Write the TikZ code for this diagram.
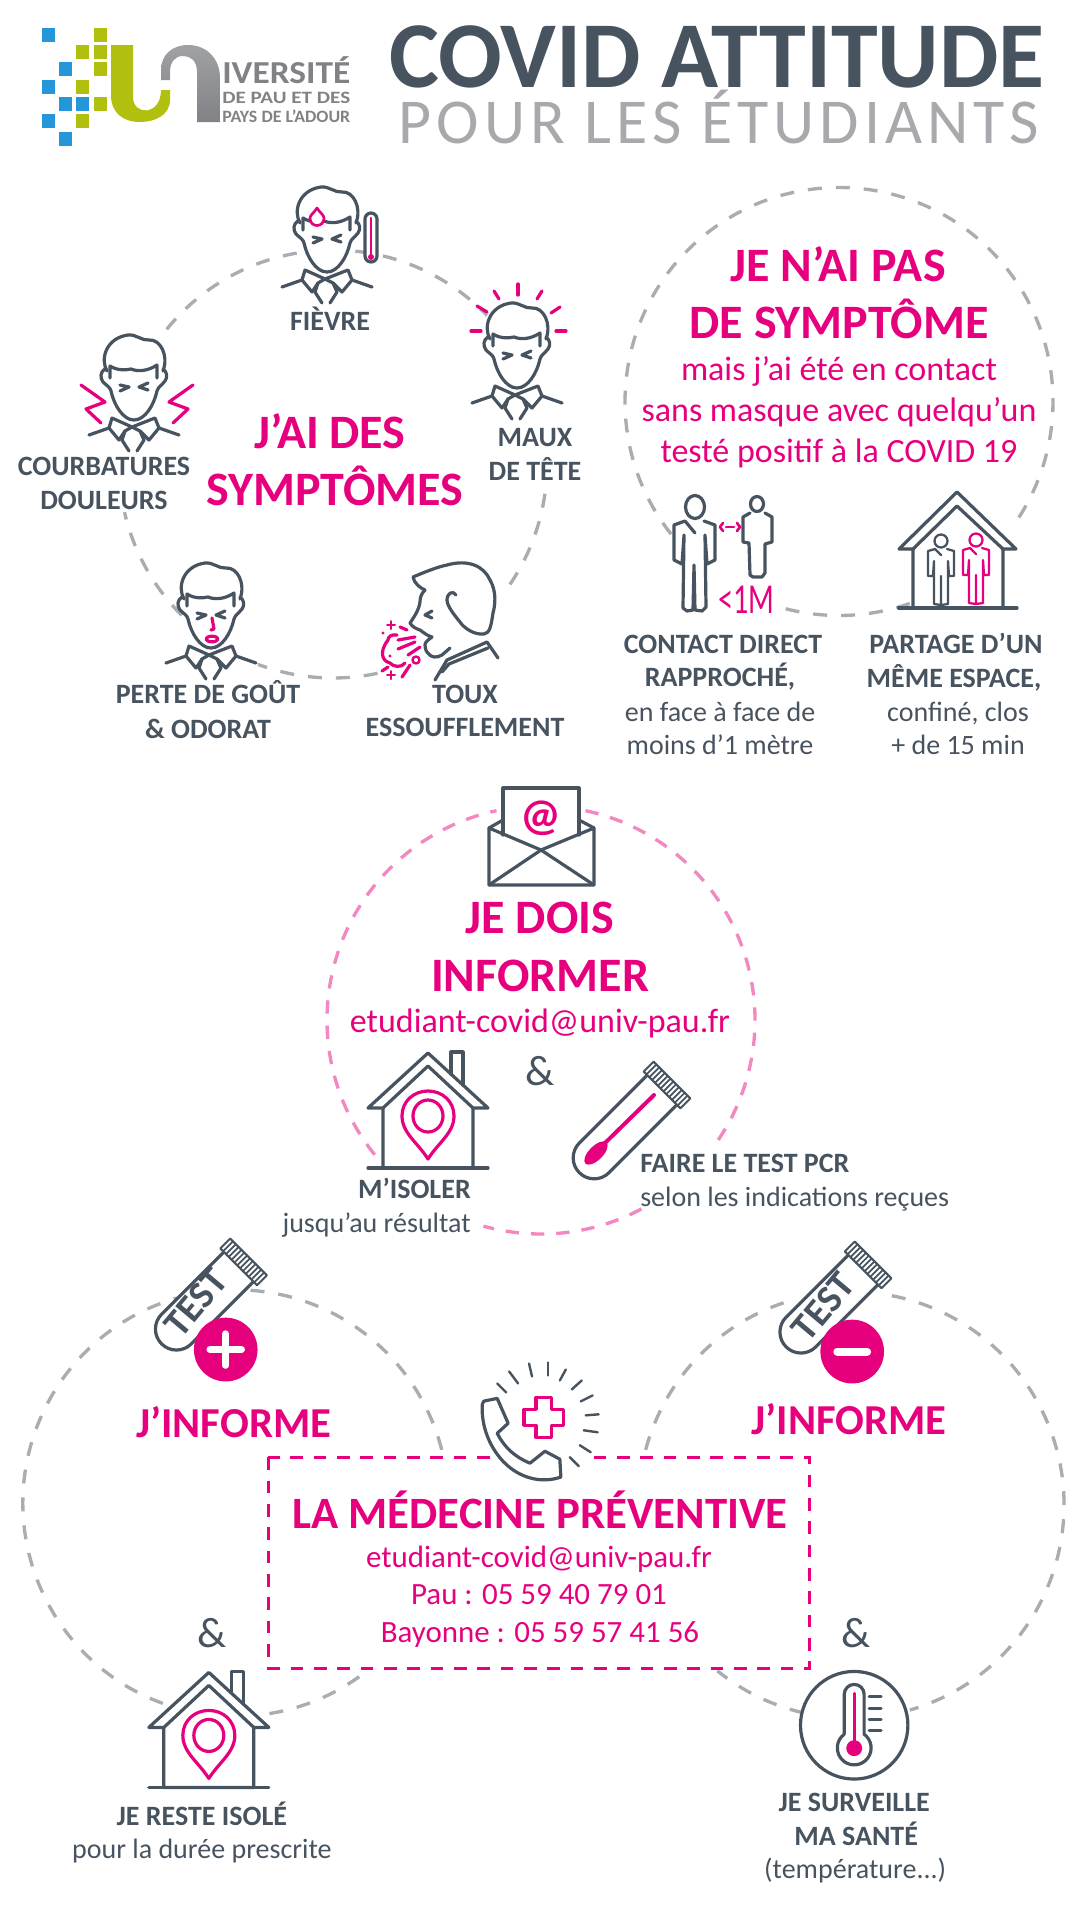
\documentclass[tikz,border=0pt]{standalone}
\usepackage{fontspec}
\setmainfont{Carlito}
\newfontfamily\spc[LetterSpace=7.9]{Carlito}
\definecolor{dk}{HTML}{47535F}
\definecolor{mg}{HTML}{E6007E}
\definecolor{gd}{HTML}{A9ADB1}
\definecolor{pk}{HTML}{F288BF}
\definecolor{lt}{HTML}{A7A9AC}
\definecolor{lgb}{HTML}{2596D7}
\definecolor{lgg}{HTML}{B1BF0E}
\definecolor{lgy}{HTML}{808285}
\newcommand{\fz}[1]{\fontsize{#1}{#1}\selectfont}
\newcommand{\fitw}[2]{\resizebox{#1}{\height}{#2}}
\newcommand{\carc}[5]{\draw[#1] ({#2+214*cos(#4)},{#3+214*sin(#4)}) arc[start angle=#4,end angle=#5,radius=214];}
\tikzset{
  ic/.style={draw=dk,line width=2.4pt,line cap=round,line join=round},
  im/.style={draw=mg,line width=2.4pt,line cap=round,line join=round},
  gdash/.style={draw=gd,line width=2.5pt,dash pattern=on 10.5pt off 10.5pt},
  pdash/.style={draw=pk,line width=2.5pt,dash pattern=on 10pt off 9pt},
  bx/.style={anchor=base,inner sep=0pt},
  ttl/.style={bx,text=dk,font=\fz{70.7}\bfseries},
  sub/.style={bx,text=lt,font=\fz{48}\spc},
  sec/.style={bx,text=mg,font=\fz{36}\bfseries},
  mbody/.style={bx,text=mg,font=\fz{25.5}},
  lab/.style={bx,text=dk,font=\fz{21}\bfseries},
  labr/.style={bx,text=dk,font=\fz{21}},
  amp/.style={bx,text=dk,font=\fz{32}},
  logot/.style={anchor=base west,inner sep=0pt,text=lgy,font=\bfseries},
  pics/head/.style={code={
    \draw[ic,fill=white] (-29,34) .. controls (-34,37) and (-34,43) .. (-31,47) .. controls (-27,51) and (-24,52) .. (-23,56) .. controls (-20,70) and (-11,85) .. (0,85) .. controls (11,85) and (20,70) .. (23,56) .. controls (24,52) and (28,50) .. (31,46) .. controls (34,42) and (33,37) .. (29,34);
    \draw[ic] (-27,36) .. controls (-34,24) and (-28,3) .. (-6,0) .. controls (2,-1) and (8,6) .. (15,5) .. controls (26,4) and (35,20) .. (29,36);
    \draw[ic] (-24,43) -- (-24,31) .. controls (-16,36) and (-8,35) .. (-3,34) .. controls (4,37) and (14,36) .. (23,30) -- (23,43);
    \draw[ic] (-14,50) -- (-5,52) -- (-14,56) (14,48) -- (5,52) -- (14,55);
    \draw[ic] (-45,100) -- (-25,93) (45,100) -- (25,93);
    \draw[ic] (-22,83) -- (-25,93) -- (-15,105) -- (-9,96) -- (-2,92) -- cycle;
    \draw[ic] (21,83) -- (25,93) -- (15,105) -- (6,96) -- (-2,92) -- cycle;
    \draw[ic] (-9,96) -- (-12,105) -- (-5,116) (6,96) -- (10,105) -- (3,116);
  }},
  pics/person/.style 2 args={code={
    \draw[ic,draw=#1,line width=#2,fill=white] (0,0) circle[radius=6.5];
    \draw[ic,draw=#1,line width=#2] (-6,8) -- (-13,10) -- (-13,35) -- (-8,35) -- (-7,20) -- (-7,63) -- (0,64) -- (0,35) -- (0,64) -- (7,63) -- (7,20) -- (8,35) -- (13,35) -- (13,10) -- (6,8);
    \draw[ic,draw=#1,line width=#2] (-6,8) -- (0,14);
  }},
  pics/house/.style={code={
    \draw[ic,fill=white] (-60,55) -- (0,0) -- (60,55) -- (45,55) -- (45,115) -- (-45,115) -- (-45,55) -- cycle;
    \draw[ic] (-45,55) -- (0,13) -- (45,55);
    \draw[ic] (-60,115) -- (60,115);
    \draw[ic] (23,21) -- (23,-1) -- (35,-1) -- (35,32);
    \draw[im] (0,106) .. controls (-10,90) and (-26,80) .. (-26,63) .. controls (-26,48) and (-14,38) .. (0,38) .. controls (14,38) and (26,48) .. (26,63) .. controls (26,80) and (10,90) .. (0,106) -- cycle;
    \draw[im] (0,63) ellipse[x radius=15,y radius=16];
  }},
  pics/tube/.style={code={
    \draw[ic,fill=white] (-21,6) -- (-21,#1) arc[start angle=180,end angle=0,radius=21] -- (21,6);
    \draw[ic,line width=1.5pt,fill=white] (-26,-7) rectangle (26,7);
    \foreach \u in {-22,-18,...,22} {\draw[ic,line width=1.3pt] (\u,-7) -- (\u,7);}
  }}
}
\begin{document}
\begin{tikzpicture}[x=.75pt,y=-.75pt]
\useasboundingbox (0,0) rectangle (1080,1920);

% ---------- logo
\foreach \x/\y in {41.5/28,59/62,41.5/80,59/97,76/97,41.5/114,59/132} {\fill[lgb] (\x,\y) rectangle ++(13,13.5);}
\foreach \x/\y in {93.5/28,76/45,93.5/45,93.5/62,76/80,93.5/97,76/114} {\fill[lgg] (\x,\y) rectangle ++(13,13.5);}
\fill[lgg] (111,45) -- (133,45) -- (133,97) .. controls (133,116) and (161,116) .. (161,90) -- (170,90) -- (170,100) .. controls (170,115) and (155,122) .. (140,122) .. controls (122,122) and (111,112) .. (111,95) -- cycle;
\shade[top color=lgy!75,bottom color=lgy] (161,80) -- (161,70) .. controls (161,55) and (172,45) .. (188,45) .. controls (208,45) and (220,60) .. (220,78) -- (220,122) -- (197,122) -- (197,72) .. controls (197,60) and (190,56) .. (183,56) .. controls (175,56) and (170,62) .. (170,72) -- (170,80) -- cycle;
\node[logot] (lg1) at (222,83) {\fz{24}\fitw{96pt}{IVERSITÉ}};
\node[logot] (lg2) at (222,103) {\fz{13}\fitw{96pt}{DE PAU ET DES}};
\node[logot] (lg3) at (222,122) {\fz{13}\fitw{96pt}{PAYS DE L’ADOUR}};

% ---------- title
\node[ttl] (t1) at (717,87) {COVID ATTITUDE};
\node[sub] (t2) at (719,143) {POUR LES ÉTUDIANTS};

% ---------- circles (arcs)
\carc{gdash}{333}{464}{219}{261}
\carc{gdash}{333}{464}{276}{316}
\carc{gdash}{333}{464}{8}{35}
\carc{gdash}{333}{464}{78}{110.5}
\carc{gdash}{333}{464}{135}{167}
\carc{gdash}{839}{401.5}{141.7}{395.5}
\carc{gdash}{839}{401.5}{70.7}{105}
\carc{pdash}{541}{1020}{282}{395}
\carc{pdash}{541}{1020}{62}{105.6}
\carc{pdash}{541}{1020}{141}{258}

% ---------- heads
\pic at (327,187) {head};
\draw[im,line width=2pt,fill=white] (317,208) .. controls (314,213) and (310,215) .. (310,218) .. controls (310,228) and (324,228) .. (324,218) .. controls (324,215) and (320,213) .. (317,208) -- cycle;
\draw[ic,fill=white] (365,219) arc[start angle=180,end angle=360,radius=6] -- (377,256) arc[start angle=0,end angle=180,radius=6] -- cycle;
\draw[im,line width=2pt] (371,218) -- (371,256);
\fill[mg] (371,257) circle[radius=3];

\pic at (517,303) {head};
\foreach \a/\b/\c/\d in {0/-19/0/-8,-24/-12/-19/-4,24/-12/19/-4,-41/3/-31/9,42/4/33/10,-47/28/-37/28,38/28/48/28}
  {\draw[im] (518+\a,303+\b) -- (518+\c,303+\d);}

\pic at (134,335) {head};
\draw[im] (81,385) -- (105,402) -- (86,409) -- (101,423);
\draw[im] (193,385) -- (169,402) -- (188,409) -- (173,423);

\pic at (211,563) {head};
\draw[im] (212,618) -- (214,629) -- (211,630);
\draw[im] (212,639) ellipse[x radius=6,y radius=2.8];

% toux
\draw[ic] (425,590) .. controls (421,594) and (420,598) .. (420,602) .. controls (419,610) and (414,617) .. (410,623) .. controls (412,627) and (417,629) .. (420,630) .. controls (424,633) and (428,636) .. (432,637) .. controls (428,640) and (425,642) .. (425,645) .. controls (425,649) and (427,653) .. (428,653) .. controls (431,658) and (437,658) .. (442,655) -- (450,648);
\draw[ic] (425,590) .. controls (420,588) and (414,583) .. (413,577) .. controls (425,572) and (437,567) .. (447,565) .. controls (468,559) and (484,566) .. (490,580) .. controls (497,592) and (495,606) .. (493,613) .. controls (491,626) and (490,633) .. (484,634) .. controls (474,635) and (464,628) .. (460,622) .. controls (455,616) and (447,606) .. (447,600) .. controls (447,593) and (453,590) .. (456,595);
\draw[ic] (435,680) -- (447,660) -- (487,642) -- (498,658);
\draw[ic] (442,672) -- (449,664) -- (488,648);
\draw[ic] (432,611) -- (425,615) -- (432,618);
\draw[im] (397,635) .. controls (391,634) and (388,637) .. (388,640) .. controls (384,645) and (381,652) .. (383,657) .. controls (385,662) and (388,662) .. (390,663) .. controls (393,667) and (402,668) .. (405,663);
\draw[im] (398,640) -- (415,637) (398,649) -- (415,642) (408,655) -- (420,647) (382,671) -- (388,667) (402,677) -- (410,665) (400,627) -- (407,630);
\draw[im,line width=1.8pt] (416,660) circle[radius=3.5];
\fill[mg] (390,656) circle[radius=1.6];
\fill[mg] (383,633) circle[radius=1.6];
\foreach \x/\y in {391/625,391/675} {\draw[im,line width=1.5pt] (\x-4,\y) -- (\x+4,\y) (\x,\y-4) -- (\x,\y+4);}

% ---------- contact icons
\draw[ic] (695,507) ellipse[x radius=9.5,y radius=11.5];
\draw[ic] (695,533) -- (685,521) -- (674,525) -- (674,560) -- (682,564) -- (684,535) -- (683,608) -- (687,611) -- (693,610) -- (694,565) -- (695,610) -- (702,611) -- (706,607) -- (705,535) -- (707,564) -- (715,560) -- (715,525) -- (704,521);
\draw[ic] (757,504) ellipse[x radius=6.5,y radius=7.5];
\draw[ic] (750,513) -- (743,517) -- (743,542) -- (749,543) -- (750,575) -- (753,577) -- (762,577) -- (765,573) -- (765,544) -- (772,542) -- (772,517) -- (765,513);
\draw[im,line width=2pt] (726,527) -- (734,527);
\draw[im,line width=2pt] (723,523) -- (720,527) -- (723,531) (737,523) -- (740,527) -- (737,531);
\node[anchor=base,inner sep=0pt,text=mg,font=\fz{32}] (lt1) at (746,613) {\fitw{42pt}{<1M}};

\draw[ic,fill=white] (899,549) -- (957,492) -- (1016,549) -- (1003,549) -- (1003,608) -- (913,608) -- (913,549) -- cycle;
\draw[ic] (913,549) -- (957,506) -- (1003,549);
\draw[ic] (898.5,608) -- (1017,608);
\pic at (941,541) {person={dk}{1.7pt}};
\pic at (976,540) {person={mg}{1.7pt}};

% ---------- symptom texts
\node[sec] (s1) at (330,448) {J’AI DES};
\node[sec] (s2) at (335,505) {SYMPTÔMES};
\node[lab] (f1) at (330,330) {FIÈVRE};
\node[lab] (f2) at (535,446) {MAUX};
\node[lab] (f3) at (535,480) {DE TÊTE};
\node[lab] (f4) at (104,475) {COURBATURES};
\node[lab] (f5) at (104,509) {DOULEURS};
\node[lab] (f6) at (208,703) {PERTE DE GOÛT};
\node[lab] (f7) at (208,738) {\&~ODORAT};
\node[lab] (f8) at (465,703) {TOUX};
\node[lab] (f9) at (465,736) {ESSOUFFLEMENT};

\node[sec] (n1) at (838,281.5) {JE N’AI PAS};
\node[sec] (n2) at (839,338.5) {DE SYMPTÔME};
\node[mbody] (n3) at (839,380) {mais j’ai été en contact};
\node[mbody] (n4) at (839,421) {sans masque avec quelqu’un};
\node[mbody] (n5) at (839,462) {testé positif à la COVID 19};
\node[lab] (c1) at (723,653) {CONTACT DIRECT};
\node[lab] (c2) at (720,686) {RAPPROCHÉ,};
\node[labr] (c3) at (720,721) {en face à face de};
\node[labr] (c4) at (720,754) {moins d’1 mètre};
\node[lab] (c5) at (956,653) {PARTAGE D’UN};
\node[lab] (c6) at (954,687) {MÊME ESPACE,};
\node[labr] (c7) at (958,721) {confiné, clos};
\node[labr] (c8) at (958,754) {+ de 15 min};

% ---------- envelope
\draw[ic,fill=white] (503,835) -- (503,788) -- (579,788) -- (579,835);
\draw[ic] (503,820) -- (489,828) (579,820) -- (594,828);
\draw[ic] (489,828) -- (489,885) -- (594,885) -- (594,828) -- (541,850) -- cycle;
\draw[ic] (489,885) -- (541,850) -- (594,885);
\node[bx,text=mg,font=\fz{34}\bfseries] (at1) at (541,830) {@};

\node[sec] (d1) at (540,933) {JE DOIS};
\node[sec] (d2) at (540,991) {INFORMER};
\node[mbody] (d3) at (540,1032) {etudiant-covid@univ-pau.fr};
\node[amp] (d4) at (540,1085) {\&};
\pic at (428,1053) {house};
\pic[rotate=-45] at (667,1085) {tube=103};
\draw[im,line width=3pt] (654,1095) -- (605,1143);
\fill[mg,rotate around={-45:(596,1153)}] (596,1153) ellipse[x radius=7,y radius=15];
\node[lab,anchor=base west] (d5) at (640,1172) {FAIRE LE TEST PCR};
\node[labr,anchor=base west] (d6) at (640,1206) {selon les indications reçues};
\node[lab,anchor=base east] (d7) at (471,1198) {M’ISOLER};
\node[labr,anchor=base east] (d8) at (471,1232) {jusqu’au résultat};

% ---------- results
\begin{scope}[shift={(0,4.27)},xscale=.9944,yscale=.9965]
\carc{gdash}{237}{1504}{274}{347}
\carc{gdash}{237}{1504}{110}{254}
\carc{gdash}{237}{1504}{54.5}{82}
\carc{gdash}{856}{1506}{281}{434}
\carc{gdash}{856}{1506}{195}{254}
\carc{gdash}{856}{1506}{103}{129}
\pic[rotate=-45] at (245,1262) {tube=95};
\node[inner sep=0pt,text=dk,font=\fz{29}\bfseries,rotate=50] (tt1) at (197,1303) {TEST};
\fill[mg] (227,1350) circle[radius=32];
\draw[white,line width=5pt,line cap=round] (211,1350) -- (243,1350) (227,1334) -- (227,1366);
\pic[rotate=-45] at (873,1265) {tube=95};
\node[inner sep=0pt,text=dk,font=\fz{29}\bfseries,rotate=50] (tt2) at (828,1307) {TEST};
\fill[mg] (857,1352) circle[radius=32];
\draw[white,line width=6pt,line cap=round] (842,1352) -- (872,1352);
\node[sec,font=\fz{32}\bfseries] (r1) at (235,1438) {J’INFORME};
\node[sec,font=\fz{32}\bfseries] (r2) at (854,1435) {J’INFORME};

% box + phone
\draw[draw=mg,line width=2.25pt,dash pattern=on 9.5pt off 8pt] (270,1458) rectangle (814,1670);
\fill[white] (497,1450) rectangle (597,1466);
\draw[ic,fill=white] (485,1405) .. controls (485,1402) and (487,1401) .. (490,1401) -- (500,1399) -- (511,1424) -- (500,1434) .. controls (507,1448) and (518,1458) .. (533,1464) -- (548,1452) -- (563,1460) -- (564,1478) .. controls (540,1486) and (515,1476) .. (500,1455) .. controls (489,1440) and (484,1422) .. (485,1405) -- cycle;
\foreach \a/\b/\c/\d in {500/1384/509/1393,512/1372/521/1384,532/1364/535/1377,551/1363/551/1376,569/1370/563/1381,585/1381/575/1390,596/1396/584/1402,602/1415/589/1416,601/1433/587/1431,594/1453/583/1446,582/1467/573/1458}
  {\draw[ic,line width=1.8pt] (\a,\b) -- (\c,\d);}
\draw[im] (539,1398) -- (555,1398) -- (555,1410) -- (567,1410) -- (567,1426) -- (555,1426) -- (555,1438) -- (539,1438) -- (539,1426) -- (527,1426) -- (527,1410) -- (539,1410) -- cycle;
\node[sec,font=\fz{33.6}\bfseries] (b1) at (543,1530) {LA MÉDECINE PRÉVENTIVE};
\node[mbody,font=\fz{23.2}] (b2) at (542,1569) {etudiant-covid@univ-pau.fr};
\node[mbody,font=\fz{23.2}] (b3) at (542,1606) {Pau : 05 59 40 79 01};
\node[mbody,font=\fz{23.2}] (b4) at (543,1644) {Bayonne : 05 59 57 41 56};
\node[amp] (a1) at (213,1649) {\&};
\node[amp] (a2) at (861,1649) {\&};

\pic at (210,1674) {house};
\node[lab] (h1) at (203,1828) {JE RESTE ISOLÉ};
\node[labr] (h2) at (203,1861) {pour la durée prescrite};

\draw[ic,fill=white] (859,1727) circle[radius=54];
\draw[ic] (849,1736) -- (849,1696) arc[start angle=180,end angle=360,radius=10] -- (869,1736) arc[start angle=-54,end angle=234,radius=17];
\draw[im] (859,1695) -- (859,1750);
\fill[mg] (859,1750) circle[radius=8];
\foreach \y in {1698,1710,1721,1732} {\draw[ic] (874,\y) -- (886,\y);}
\node[lab] (m1) at (859,1814) {JE SURVEILLE};
\node[lab] (m2) at (861,1848) {MA SANTÉ};
\node[labr] (m3) at (860,1881) {(température...)};
\end{scope}
\end{tikzpicture}
\end{document}
